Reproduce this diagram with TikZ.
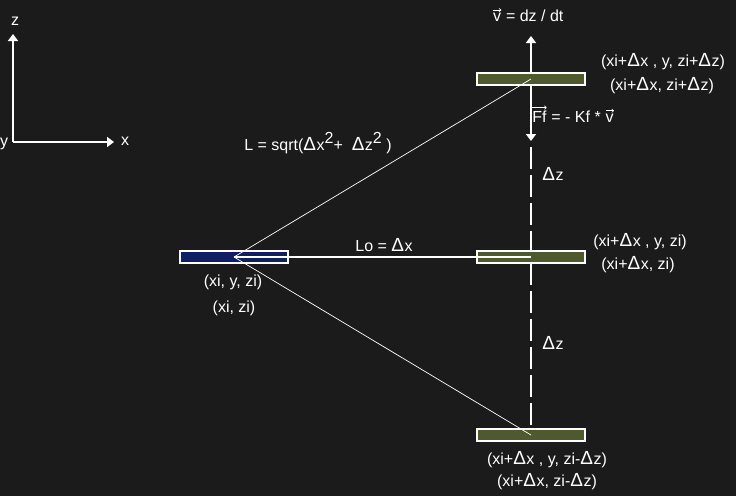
\documentclass[tikz,border=0pt]{standalone}
\usepackage{fontspec}
\setmainfont{Liberation Sans}
\usetikzlibrary{arrows.meta}

\definecolor{bgdark}{RGB}{27,27,27}
\definecolor{barolive}{RGB}{78,90,46}
\definecolor{barnavy}{RGB}{16,30,104}
\newcommand{\dlt}{{\fontsize{19}{19}\selectfont Δ}\kern0.5pt}
\newcommand{\vecl}[1]{\tikz[baseline=(c.base)]{\node[inner sep=0,text=white] (c) {#1};
	\draw[white,line width=0.6pt,-{To[length=2.5pt,width=4pt]}] ([yshift=3pt]c.north west) -- ([yshift=3pt]c.north east);}}

\begin{document}
\begin{tikzpicture}[x=1pt,y=-1pt,
	bar/.style={draw=white,line width=2pt,minimum width=108pt,minimum height=12pt,inner sep=0,outer sep=0},
	lbl/.style={text=white,font=\fontsize{16}{18}\selectfont,inner sep=0},
	tip/.style={white,line width=1.5pt,-{Triangle[width=10pt,length=7pt]}},
	axis/.style={dash pattern=on 22pt off 6pt}]
	\fill[bgdark] (0,0) rectangle (736,496);
	\useasboundingbox (0,0) rectangle (736,496);
	% axes
	\coordinate (o) at (13,142);
	\coordinate (zend) at (13,34);
	\coordinate (xend) at (114,142);
	\draw[tip] (o) -- (zend);
	\draw[tip] (o) -- (xend);
	\node[lbl] (zl) at (15,21) {z};
	\node[lbl] (xl) at (125,141) {x};
	\node[lbl] (yl) at (4,144) {y};
	% bars
	\node[bar,fill=barnavy] (src) at (234,257) {};
	\node[bar,fill=barolive] (up) at (531,79) {};
	\node[bar,fill=barolive] (mid) at (531,257) {};
	\node[bar,fill=barolive] (down) at (531,435) {};
	% springs
	\draw[white,line width=2pt] (src.center) -- (mid.center);
	\draw[white,line width=0.7pt] (src.center) -- (up.center);
	\draw[white,line width=0.7pt] (src.center) -- (down.center);
	% velocity and friction
	\coordinate (vend) at (531,36);
	\coordinate (ffend) at (531,141);
	\coordinate (dtop) at (531,147);
	\draw[tip] (up.north) -- (vend);
	\draw[tip] (up.south) -- (ffend);
	\draw[white,line width=1.5pt,axis] (dtop) -- (mid.north);
	\draw[white,line width=1.5pt,axis] (mid.south) -- (down.north);
	% labels
	\node[lbl] (vl) at (528,15) {\vecl{v} = dz / dt};
	\node[lbl] (ffl) at (573,114) {\vecl{Ff} = - Kf * \vecl{v}};
	\node[lbl] (ll) at (318,143) {L = sqrt(\dlt x\raisebox{7pt}{2}+ \ \dlt z\raisebox{7pt}{2} )};
	\node[lbl] (lol) at (384,245) {Lo = \dlt x};
	\node[lbl] (dz1) at (553,174) {\dlt z};
	\node[lbl] (dz2) at (553,343) {\dlt z};
	\node[lbl] (up1) at (663,62) {(xi+\dlt x , y, zi+\dlt z)};
	\node[lbl] (up2) at (662,86) {(xi+\dlt x, zi+\dlt z)};
	\node[lbl] (mid1) at (640,242) {(xi+\dlt x , y, zi)};
	\node[lbl] (mid2) at (638,265) {(xi+\dlt x, zi)};
	\node[lbl] (src1) at (233,282) {(xi, y, zi)};
	\node[lbl] (src2) at (234,308) {(xi, zi)};
	\node[lbl] (down1) at (547,460) {(xi+\dlt x , y, zi-\dlt z)};
	\node[lbl] (down2) at (547,482) {(xi+\dlt x, zi-\dlt z)};
\end{tikzpicture}
\end{document}
